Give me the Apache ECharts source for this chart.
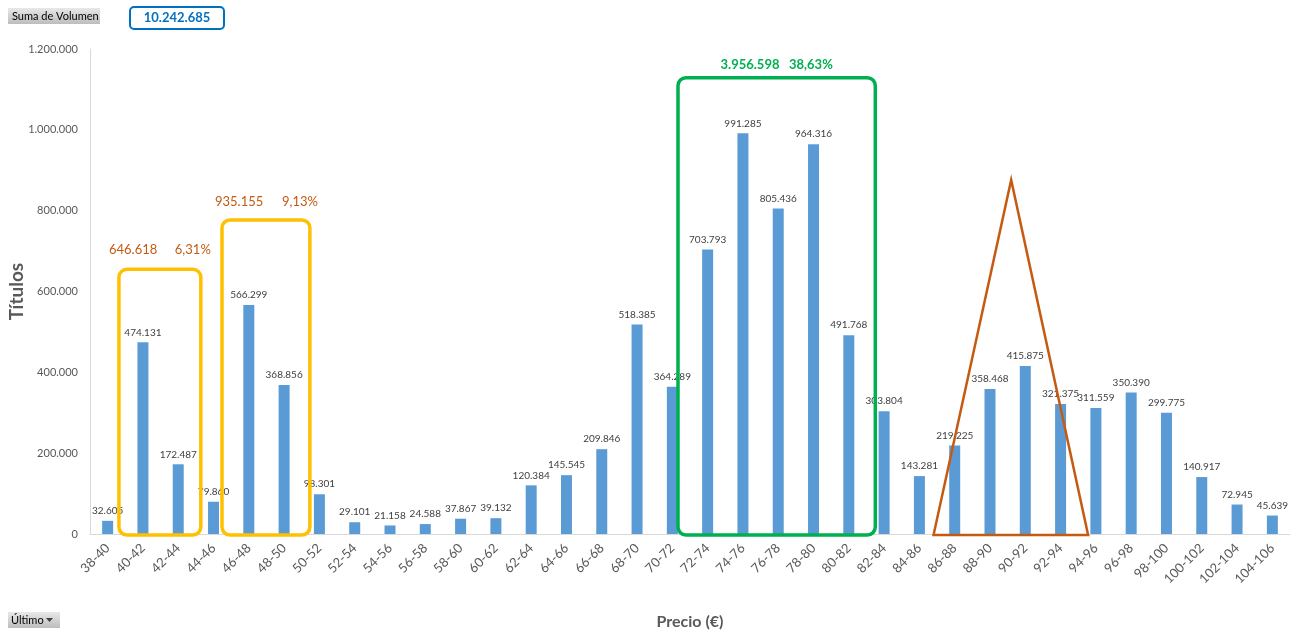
<!DOCTYPE html>
<html>
<head>
<meta charset="utf-8">
<script src="https://cdn.jsdelivr.net/npm/echarts@6/dist/echarts.min.js"></script>
<style>
  html, body { margin: 0; padding: 0; background: #fff; }
  #chart { width: 1297px; height: 633px; }
</style>
</head>
<body>
<div id="chart"></div>
<script>
// rangos de precio (€)
const categories = [
  "38-40", "40-42", "42-44", "44-46", "46-48", "48-50", "50-52", "52-54", "54-56",
  "56-58", "58-60", "60-62", "62-64", "64-66", "66-68", "68-70", "70-72", "72-74",
  "74-76", "76-78", "78-80", "80-82", "82-84", "84-86", "86-88", "88-90", "90-92",
  "92-94", "94-96", "96-98", "98-100", "100-102", "102-104", "104-106"
];
// volumen de títulos por rango
const volumen = [
  32605, 474131, 172487, 79860, 566299, 368856, 98301, 29101, 21158,
  24588, 37867, 39132, 120384, 145545, 209846, 518385, 364289, 703793,
  991285, 805436, 964316, 491768, 303804, 143281, 219225, 358468, 415875,
  321375, 311559, 350390, 299775, 140917, 72945, 45639
];
const yTicks = [0, 200000, 400000, 600000, 800000, 1000000, 1200000];

// zonas marcadas (índices de categoría)
const zonaA = [1, 2];
const zonaB = [4, 5];
const zonaC = [17, 21];

const fontFam = "Lato, 'Liberation Sans', sans-serif";

// 1234567 -> "1.234.567"
const fmt = (v) => String(Math.round(v)).replace(/\B(?=(\d{3})+(?!\d))/g, ".");
const pct = (v, t) => (v / t * 100).toFixed(2).replace(".", ",") + "%";
const sumRange = (r) => volumen.slice(r[0], r[1] + 1).reduce((a, b) => a + b, 0);
const total = volumen.reduce((a, b) => a + b, 0);

const myChart = echarts.init(document.getElementById("chart"));

myChart.setOption({
  animation: false,
  backgroundColor: "#fff",
  grid: { left: 90, right: 7, top: 49, bottom: 99, containLabel: false, outerBoundsMode: "none" },
  xAxis: {
    type: "category",
    data: categories,
    name: "Precio (€)",
    nameLocation: "middle",
    nameGap: 80,
    nameMoveOverlap: false,
    nameTextStyle: { fontFamily: fontFam, fontSize: 16, fontWeight: "bold", color: "#595959" },
    axisLine: { lineStyle: { color: "#d9d9d9", width: 1 } },
    axisTick: { show: false },
    axisLabel: {
      interval: 0, rotate: 45, margin: 12,
      fontFamily: fontFam, fontSize: 13, color: "#595959"
    }
  },
  yAxis: {
    type: "value",
    min: yTicks[0],
    max: yTicks[yTicks.length - 1],
    interval: yTicks[1] - yTicks[0],
    name: "Títulos",
    nameLocation: "middle",
    nameGap: 64,
    nameMoveOverlap: false,
    nameTextStyle: { fontFamily: fontFam, fontSize: 19, fontWeight: "bold", color: "#595959" },
    axisLine: { show: true, lineStyle: { color: "#d9d9d9", width: 1 } },
    axisTick: { show: false },
    splitLine: { show: false },
    axisLabel: {
      margin: 12, fontFamily: fontFam, fontSize: 11, color: "#595959",
      formatter: (v) => fmt(v)
    }
  },
  series: [{
    type: "bar",
    data: volumen,
    barWidth: 11,
    itemStyle: { color: "#5B9BD5" },
    label: {
      show: true, position: "top", distance: 5,
      fontFamily: fontFam, fontSize: 10, color: "#404040",
      formatter: (p) => fmt(p.value)
    }
  }]
});

// posiciones en píxeles a partir de los ejes
const px = (i, v) => myChart.convertToPixel({ gridIndex: 0 }, [i, v]);
const step = px(1, 0)[0] - px(0, 0)[0];
const yZero = px(0, 0)[1];

function caja(r, topVal, color, padL, padR) {
  const x0 = px(r[0], 0)[0] - step * padL;
  const x1 = px(r[1], 0)[0] + step * padR;
  const y0 = px(0, topVal)[1];
  return {
    type: "rect",
    shape: { x: x0, y: y0, width: x1 - x0, height: yZero - y0 + 1, r: 8 },
    style: { fill: "none", stroke: color, lineWidth: 3.5 },
    z: 10
  };
}

function texto(x, y, str, color, bold, align) {
  return {
    type: "text", x: x, y: y, z: 11,
    style: {
      text: str, fill: color, fontFamily: fontFam, fontSize: 13,
      fontWeight: bold ? "bold" : "normal", align: align, verticalAlign: "middle"
    }
  };
}

const naranja = "#C55A11";
const amarillo = "#FFC000";
const verde = "#00B050";

const boxA = caja(zonaA, 655000, amarillo, 0.68, 0.64);
const boxB = caja(zonaB, 777000, amarillo, 0.76, 0.73);
const boxC = caja(zonaC, 1129000, verde, 0.84, 0.75);

const sA = sumRange(zonaA), sB = sumRange(zonaB), sC = sumRange(zonaC);

// triángulo sobre la zona 86-94
const triL = px(24, 0)[0] - step * 0.6;
const triR = px(28, 0)[0] - step * 0.22;
const triTop = px(26, 876000);
const triTopX = px(25, 0)[0] + step * 0.6;

const graphics = [
  boxA, boxB, boxC,
  texto(boxA.shape.x - 10, px(0, 702000)[1], fmt(sA), naranja, false, "left"),
  texto(boxA.shape.x + boxA.shape.width + 10, px(0, 702000)[1], pct(sA, total), naranja, false, "right"),
  texto(boxB.shape.x - 7, px(0, 822000)[1], fmt(sB), naranja, false, "left"),
  texto(boxB.shape.x + boxB.shape.width + 8, px(0, 822000)[1], pct(sB, total), naranja, false, "right"),
  texto(boxC.shape.x + boxC.shape.width / 2, px(0, 1160000)[1],
    fmt(sC) + "   " + pct(sC, total), verde, true, "center"),
  {
    type: "polygon", z: 10,
    shape: { points: [[triL, yZero + 1], [triTopX, triTop[1]], [triR, yZero + 1]] },
    style: { fill: "none", stroke: naranja, lineWidth: 2.5 }
  },
  // botones de la tabla dinámica
  {
    type: "rect", z: 12,
    shape: { x: 8, y: 8, width: 92, height: 16 },
    style: {
      fill: new echarts.graphic.LinearGradient(0, 0, 0, 1, [
        { offset: 0, color: "#e8e8e8" }, { offset: 1, color: "#bdbdbd" }
      ])
    }
  },
  {
    type: "text", x: 12, y: 16, z: 13,
    style: { text: "Suma de Volumen", fill: "#000", fontFamily: fontFam, fontSize: 11, verticalAlign: "middle" }
  },
  {
    type: "rect", z: 12,
    shape: { x: 130, y: 7, width: 94, height: 22, r: 4 },
    style: { fill: "#fff", stroke: "#0070C0", lineWidth: 2 }
  },
  {
    type: "text", x: 177, y: 18, z: 13,
    style: {
      text: fmt(total), fill: "#0070C0", fontFamily: fontFam, fontSize: 13,
      fontWeight: "bold", align: "center", verticalAlign: "middle"
    }
  },
  {
    type: "rect", z: 12,
    shape: { x: 8, y: 612, width: 52, height: 16 },
    style: {
      fill: new echarts.graphic.LinearGradient(0, 0, 0, 1, [
        { offset: 0, color: "#e8e8e8" }, { offset: 1, color: "#bdbdbd" }
      ])
    }
  },
  {
    type: "text", x: 11, y: 620, z: 13,
    style: { text: "Último", fill: "#000", fontFamily: fontFam, fontSize: 11, verticalAlign: "middle" }
  },
  {
    type: "polygon", z: 13,
    shape: { points: [[46, 618], [53, 618], [49.5, 622]] },
    style: { fill: "#404040" }
  }
];

myChart.setOption({ graphic: graphics });
</script>
</body>
</html>
